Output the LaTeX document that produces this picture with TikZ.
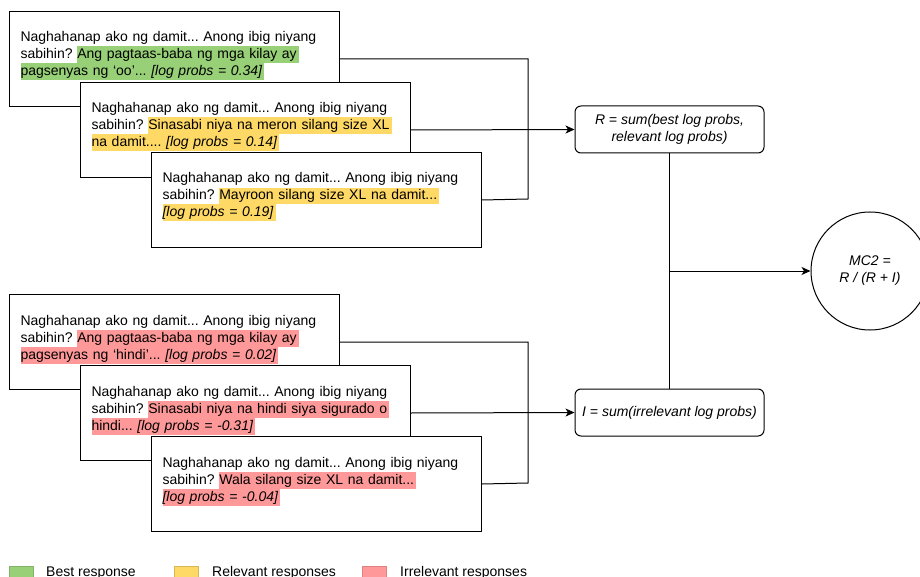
\documentclass[tikz,border=0pt]{standalone}
\usepackage{fontspec}
\setmainfont{Liberation Sans}
\usetikzlibrary{arrows.meta}
\frenchspacing
\definecolor{hlgreen}{HTML}{97D077}
\definecolor{hlyellow}{HTML}{FFD966}
\definecolor{hlred}{HTML}{FF9999}
\definecolor{bdgreen}{HTML}{82B366}
\definecolor{bdyellow}{HTML}{D6B656}
\definecolor{bdred}{HTML}{E08080}
\newcommand{\hlc}[2]{{\setlength{\fboxsep}{0pt}\colorbox{#1}{\rule[-4.5pt]{0pt}{17pt}#2\hspace{2pt}}}}
\newcommand{\topstrut}{\rule{0pt}{12.5pt}}
\newcommand{\botstrut}{\rule[-12.5pt]{0pt}{1pt}}
\tikzset{
  resp/.style={draw, line width=1pt, fill=white, minimum width=330pt, minimum height=95pt,
    text width=308pt, inner xsep=11pt, inner ysep=0pt, align=left, anchor=north west,
    font=\fontsize{14}{17}\selectfont\frenchspacing},
  sumbox/.style={draw, line width=1pt, rounded corners=6pt, minimum width=189pt, minimum height=47pt,
    align=center, inner sep=2pt, font=\fontsize{14}{17}\selectfont\itshape},
  link/.style={line width=1pt},
  arr/.style={line width=1pt, -{Stealth[length=9pt,width=8pt,inset=2.5pt]}},
  legsq/.style={line width=0.8pt, minimum width=24pt, minimum height=24pt, anchor=north west, inner sep=0pt},
  legtx/.style={anchor=base west, inner sep=0pt, font=\fontsize{14}{17}\selectfont}
}
\begin{document}
\begin{tikzpicture}[x=1pt,y=-1pt]
\useasboundingbox (0,0) rectangle (920,577);
% top group
\node[resp] (b1) at (9,11) {\topstrut Naghahanap ako ng damit... Anong ibig niyang\\
sabihin? \hlc{hlgreen}{Ang pagtaas-baba ng mga kilay ay}\\
\hlc{hlgreen}{pagsenyas ng ‘oo’... \textit{[log probs = 0.34]}}\botstrut};
\node[resp] (b2) at (80,82) {\topstrut Naghahanap ako ng damit... Anong ibig niyang\\
sabihin? \hlc{hlyellow}{Sinasabi niya na meron silang size XL}\\
\hlc{hlyellow}{na damit.... \textit{[log probs = 0.14]}}\botstrut};
\node[resp] (b3) at (151,152) {\topstrut Naghahanap ako ng damit... Anong ibig niyang\\
sabihin? \hlc{hlyellow}{Mayroon silang size XL na damit...}\\
\hlc{hlyellow}{\textit{[log probs = 0.19]}}\botstrut};
% bottom group
\node[resp] (b4) at (9,294) {\topstrut Naghahanap ako ng damit... Anong ibig niyang\\
sabihin? \hlc{hlred}{Ang pagtaas-baba ng mga kilay ay}\\
\hlc{hlred}{pagsenyas ng ‘hindi’... \textit{[log probs = 0.02]}}\botstrut};
\node[resp] (b5) at (80,365) {\topstrut Naghahanap ako ng damit... Anong ibig niyang\\
sabihin? \hlc{hlred}{Sinasabi niya na hindi siya sigurado o}\\
\hlc{hlred}{hindi... \textit{[log probs = -0.31]}}\botstrut};
\node[resp] (b6) at (151,436) {\topstrut Naghahanap ako ng damit... Anong ibig niyang\\
sabihin? \hlc{hlred}{Wala silang size XL na damit...}\\
\hlc{hlred}{\textit{[log probs = -0.04]}}\botstrut};
% sums
\node[sumbox] (R) at (669.5,129.5) {R = sum(best log probs,\\relevant log probs)};
\node[sumbox] (I) at (669.5,412.5) {I = sum(irrelevant log probs)};
\node[draw, circle, line width=1pt, minimum size=118pt, inner sep=0pt, align=center,
  font=\fontsize{14}{17}\selectfont\itshape] (M) at (870,271) {MC2 =\\R / (R + I)};
% connectors
\coordinate (jt) at (528,199);
\coordinate (jb) at (528,483);
\coordinate (jm) at (669.5,271);
\draw[link] (b1.east) -| (jt) -- (b3.east);
\draw[arr] (b2.east) -- (R.west);
\draw[link] (b4.east) -| (jb) -- (b6.east);
\draw[arr] (b5.east) -- (I.west);
\draw[link] (R.south) -- (I.north);
\draw[arr] (jm) -- (M.west);
% legend
\node[legsq, fill=hlgreen, draw=bdgreen] (lg1) at (9,566) {};
\node[legtx] (lt1) at (46,576.5) {Best response};
\node[legsq, fill=hlyellow, draw=bdyellow] (lg2) at (174,566) {};
\node[legtx] (lt2) at (212,576.5) {Relevant responses};
\node[legsq, fill=hlred, draw=bdred] (lg3) at (362,566) {};
\node[legtx] (lt3) at (400,576.5) {Irrelevant responses};
\end{tikzpicture}
\end{document}
